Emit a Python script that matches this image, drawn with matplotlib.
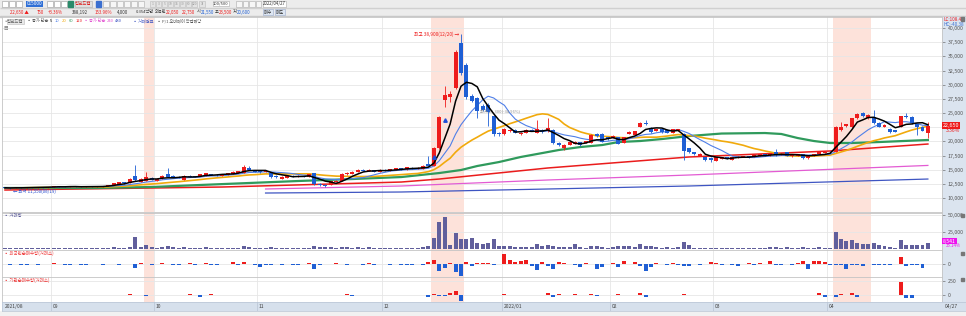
import matplotlib
matplotlib.use("Agg")
from matplotlib import pyplot as plt
from matplotlib.patches import Rectangle
import numpy as np
import pandas as pd

plt.rcParams['font.family'] = ['Noto Sans CJK KR', 'DejaVu Sans']

# daily candles 2021/08 ~ 2022/04/27, one entry per trading day
opens = [11900, 11800, 11750, 11850, 11800, 11900, 11850, 11950, 11900, 11950,
         12100, 12000, 11950, 12050, 12000, 11950, 12050, 12000, 12050, 12100,
         12350, 12500, 12800, 12650, 13900, 12850, 13000, 13550, 13000, 13500,
         14250, 13900, 13700, 13200, 13900, 13850, 13850, 13900, 14200, 14100,
         13900, 14100, 14300, 14500, 14400, 15300, 14950, 14750, 14600, 14400,
         13900, 13350, 13550, 13900, 13750, 13900, 13700, 14400, 12500, 12300,
         12300, 12800, 13000, 14200, 14250, 14600, 14950, 14800, 14950, 14650,
         14950, 14850, 15000, 15250, 15050, 15350, 15150, 15150, 16050, 15700,
         18850, 27300, 27800, 29400, 37350, 33450, 28000, 27650, 26250, 26400,
         24450, 21500, 21300, 21800, 22000, 21300, 21500, 22000, 21450, 22000,
         21800, 22000, 19700, 18850, 19350, 19550, 19900, 19700, 19700, 21300,
         21300, 20750, 20600, 20750, 19700, 21300, 21100, 22500, 23250, 22350,
         21900, 22150, 22000, 21450, 21850, 21300, 18800, 18100, 17500, 17200,
         17050, 16550, 16900, 17200, 16700, 17150, 17200, 17400, 17200, 17400,
         17750, 17550, 18050, 17600, 18050, 17350, 17400, 17750, 17050, 17400,
         17750, 17950, 18150, 18100, 22000, 22700, 22500, 24100, 24950, 24100,
         24300, 23250, 22550, 22200, 21950, 22550, 24450, 24300, 23050, 22550,
         21550]
closes = [11800, 11750, 11850, 11800, 11900, 11850, 11950, 11900, 11950, 12100,
          12000, 11950, 12050, 12000, 11950, 12050, 12000, 12050, 12100, 12300,
          12650, 12800, 12650, 13350, 13200, 13350, 13700, 13200, 13350, 13900,
          13700, 13700, 13550, 13900, 13700, 13750, 14200, 14400, 14050, 14000,
          14200, 14400, 14600, 14750, 15450, 14950, 14600, 14600, 14750, 13700,
          13700, 13700, 13900, 13800, 13900, 13750, 14200, 12500, 12300, 12150,
          12950, 13000, 14250, 14400, 14600, 14950, 14800, 14950, 14600, 14950,
          14850, 15100, 15250, 15100, 15400, 15200, 15300, 15650, 15700, 18850,
          24300, 28150, 28350, 35800, 32050, 27800, 27100, 25350, 25550, 25200,
          21300, 21300, 22200, 21950, 21500, 21500, 22000, 21850, 22150, 21650,
          22350, 19700, 19350, 19350, 19900, 19900, 19350, 20050, 21100, 20950,
          19900, 20400, 20950, 19550, 20750, 21650, 21800, 23250, 23050, 21650,
          22150, 21650, 21500, 22150, 22150, 18300, 18100, 17750, 17800, 16700,
          16700, 17200, 17200, 16900, 17200, 17300, 17400, 17200, 17550, 17700,
          17550, 17900, 17550, 17800, 17500, 17600, 17750, 17050, 17400, 17750,
          18100, 18150, 18100, 22500, 22550, 23050, 24100, 24800, 24450, 24650,
          23250, 22550, 22900, 21650, 21700, 24450, 24300, 23250, 22550, 21900,
          22650]
highs = [11950, 11850, 11900, 11900, 11950, 11950, 12000, 12000, 12000, 12150,
         12150, 12050, 12100, 12100, 12050, 12100, 12100, 12100, 12200, 12350,
         12700, 12900, 12850, 13550, 15800, 13450, 14600, 13650, 13450, 14000,
         15300, 14000, 13800, 14000, 14000, 13950, 14300, 14500, 14300, 14200,
         14300, 14500, 14700, 14850, 15800, 15650, 15000, 14800, 14850, 14450,
         14000, 13800, 14000, 14000, 14000, 13950, 14300, 14500, 12600, 12400,
         13050, 13100, 14350, 14550, 14700, 15050, 15050, 15050, 15000, 15050,
         15050, 15200, 15350, 15300, 15500, 15450, 15400, 15750, 17400, 19000,
         24500, 29750, 28900, 36200, 38900, 33900, 28300, 27900, 26600, 26700,
         24700, 21700, 22400, 22100, 22100, 21600, 22100, 22100, 23800, 22100,
         24050, 22200, 19800, 19450, 20000, 20000, 19950, 20150, 21250, 21400,
         21400, 20850, 21050, 20850, 20850, 21750, 21900, 23400, 23800, 22450,
         22250, 22250, 22100, 22250, 22250, 21400, 18900, 18200, 17900, 17300,
         17150, 17300, 17300, 17250, 17300, 17400, 17500, 17450, 17650, 17800,
         17850, 18000, 18650, 17900, 18100, 17700, 17850, 17800, 17500, 17850,
         18200, 18250, 18250, 22700, 23400, 23150, 24200, 24950, 25100, 24750,
         25500, 23350, 23000, 22300, 22050, 24550, 25000, 24400, 23150, 22650,
         23500]
lows = [11750, 11650, 11700, 11750, 11750, 11800, 11800, 11850, 11850, 11900,
        11950, 11900, 11900, 11950, 11900, 11900, 11950, 11950, 12000, 12050,
        12300, 12450, 12550, 12600, 13050, 12800, 12950, 13100, 12950, 13400,
        13650, 13650, 13450, 13150, 13650, 13650, 13800, 13850, 14000, 13900,
        13850, 14050, 14250, 14450, 14350, 14900, 14550, 14500, 14550, 13600,
        13600, 13300, 13500, 13700, 13700, 13650, 13650, 12300, 12100, 11950,
        12250, 12750, 12950, 14100, 14200, 14550, 14700, 14750, 14550, 14600,
        14750, 14800, 14950, 15000, 15000, 15100, 15100, 15100, 15650, 15600,
        18700, 26050, 26950, 29200, 31800, 27500, 26900, 24100, 25300, 22750,
        21000, 20900, 21200, 21700, 21400, 21200, 21450, 21750, 21400, 21550,
        21700, 19500, 19200, 18500, 19300, 19500, 19250, 19650, 19650, 20850,
        19800, 20300, 20550, 19450, 19650, 21250, 21050, 22450, 22950, 21550,
        21850, 21550, 21400, 21400, 21800, 16700, 18000, 17650, 17450, 16600,
        16400, 16500, 16850, 16800, 16650, 17100, 17150, 17100, 17150, 17350,
        17450, 17500, 17450, 17550, 17400, 17300, 17350, 16950, 16800, 17350,
        17700, 17900, 18000, 18050, 21900, 22500, 22400, 24000, 24300, 24000,
        23150, 22450, 22450, 21550, 21600, 22450, 24200, 23150, 21100, 21800,
        20600]
volume = [1500, 1200, 1800, 1000, 1500, 1200, 1000, 1800, 1500, 2000,
          1500, 1200, 1000, 1500, 1200, 1000, 1500, 1800, 1800, 2000,
          2500, 2000, 2200, 3000, 17600, 3000, 5500, 3000, 2000, 2500,
          4500, 2500, 2000, 2500, 2000, 1800, 2000, 2500, 1800, 1500,
          2000, 2000, 2200, 2000, 4500, 3000, 2000, 1800, 1500, 2500,
          2000, 1800, 1800, 1500, 1500, 1500, 2000, 5000, 3000, 2500,
          2500, 2000, 3500, 2500, 2000, 2500, 2000, 2500, 2000, 1800,
          2000, 1800, 2000, 2000, 1800, 1500, 2000, 2500, 5000, 16000,
          39000, 47000, 6000, 23000, 15000, 15000, 16000, 8500, 7500, 9000,
          15000, 5000, 5000, 4000, 3000, 3000, 3000, 3000, 7500, 4000,
          6500, 5000, 3000, 3000, 3000, 7500, 2500, 2000, 5000, 4000,
          3000, 2000, 3000, 5000, 4000, 5000, 3000, 7500, 4000, 4000,
          2500, 2000, 2500, 2000, 2500, 11000, 5500, 2000, 2000, 1500,
          1500, 2000, 1800, 1500, 1800, 1500, 1500, 1500, 1800, 1500,
          2000, 2500, 3500, 2000, 2500, 2000, 2000, 2500, 2000, 2000,
          2500, 2000, 2000, 25000, 15000, 11500, 13000, 9000, 8000, 8000,
          9000, 5900, 4400, 3000, 2000, 12700, 5400, 5400, 5400, 5400,
          9300]
foreign_net = [0.5, -0.5, 0.5, -0.5, -0.5, 0.5, -0.5, 0.5, 0.5, 1,
               0.5, -0.5, -0.5, 0.5, -0.5, -0.5, 0.5, 0.5, -0.5, 0.5,
               0.5, -0.5, 0.5, 0.5, -3.5, 1.5, 0.5, -0.5, 0.5, 1.5,
               0.5, -1, -0.5, 0.5, 1.5, -0.5, 0.5, 1.5, -1, -0.5,
               0.5, 0.5, 2, -0.5, 2, 0.5, -0.5, -3, -0.5, -0.5,
               0.5, -0.5, 0.5, -0.5, -0.5, 0.5, 1, -5, -0.5, 0.5,
               0.5, 1.5, 0.5, -0.5, 0.5, 0.5, -1, 1, -0.5, 0.5,
               0.5, -0.5, 0.5, -0.5, -1, -0.5, 0.5, -0.5, 2.3, 4,
               -6.7, -4.3, 1, -7.7, -12, 2.3, -2, 1, 1, 1,
               -1, 0.5, 10, 4, 2.3, 3, 4, -2, -6, 2.3,
               -2, -5.3, 2.3, 1, 0.5, -1, -3, 1, 0.5, -5,
               -3, 0.5, 1, -3, 3, 0.5, 2.3, -2, -7, -3,
               1, 0.5, -0.5, 1.5, -1, -2, -2, 0.5, -0.5, 0.5,
               2, 1.5, -1, 0.5, -0.5, -2, 0.5, 1, -1, 1.5,
               0.5, 3.3, -1, -1, 0.5, -0.5, 1.5, 3, -5, 3,
               3, 2.3, -0.5, -1, -0.5, -5, -0.5, -1, -2, 0.5,
               -1, -0.5, -0.5, -0.5, 0.5, 7.3, -2, -0.5, -1, -4.3,
               0]
# institution net buying only on the days it is not ~0
inst_days = [23, 26, 34, 36, 38, 63, 64, 78, 79, 80, 81, 82, 83, 84, 85, 92, 100, 101,
             102, 105, 108, 109, 113, 117, 118, 125, 150, 151, 153, 154, 156, 157, 165, 166, 167]
inst_net = [20, -20, 20, -35, 20, 20, -20, -35, 15, -15, -15, 35, 75, -120, 5, 20, 35, -35,
            25, 15, 20, -20, 15, 35, -35, 25, 30, -35, -40, 15, 30, -30, 240, -60, -55]

# long moving averages, read at a few days
ma60_days = [0, 17, 27, 36, 45, 54, 64, 73, 80, 84, 87, 91, 95, 99, 102, 106,
             110, 113, 117, 121, 126, 132, 140, 143, 146, 149, 152, 156, 161, 170]
ma60_vals = [11770, 11770, 11940, 12300, 12650, 13000, 13350, 13700, 14410, 14940,
             15650, 16350, 17240, 17940, 18470, 19000, 19350, 19880, 20060, 20410,
             20940, 21380, 21470, 21300, 20590, 20060, 19710, 19710, 19880, 20240]
ma120_days = [0, 40, 60, 73, 80, 100, 126, 152, 170]
ma120_vals = [11410, 11940, 12470, 12820, 13350, 15300, 17240, 18300, 19530]
ma240_days = [48, 73, 100, 126, 170]
ma240_vals = [11590, 12120, 13180, 14060, 15750]
ma480_days = [48, 73, 100, 126, 170]
ma480_vals = [10880, 11060, 11590, 12120, 13350]

month_edges = [8.5, 27.5, 46.5, 69.5, 91.5, 111.5, 130.5, 151.5]
month_labels = ["09", "10", "11", "12", "2022/01", "02", "03", "04"]
highlights = [(25.6, 27.5), (78.5, 84.5), (152.5, 159.5)]
price_ticks = [10000, 12500, 15000, 17500, 20000, 22500, 25000, 27500,
               30000, 32500, 35000, 37500, 40000]
period_buttons = ["1", "3", "5", "10", "15", "30", "60", "120"]

RED = "#ee1c1c"
BLUE = "#1f5fd4"
GRID = "#e6e6e6"
STRIP = "#dbe4ef"
W, H = 966, 316

fig = plt.figure(figsize=(W / 100, H / 100), dpi=100)
fig.patch.set_facecolor("white")


def ftext(x, y, s, **kw):
    kw.setdefault("fontsize", 3.2)
    kw.setdefault("va", "center")
    return fig.text(x / W, 1 - y / H, s, **kw)


def frect(x0, y0, x1, y1, **kw):
    kw.setdefault("zorder", -1)
    r = Rectangle((x0 / W, 1 - y1 / H), (x1 - x0) / W, (y1 - y0) / H,
                  transform=fig.transFigure, **kw)
    fig.patches.append(r)
    return r


def add_panel(y0, y1, ylim):
    ax = fig.add_axes([2 / W, 1 - y1 / H, 940 / W, (y1 - y0) / H])
    ax.set_xlim(-0.55, 172.6)
    ax.set_ylim(*ylim)
    ax.set_xticks([])
    ax.yaxis.tick_right()
    ax.tick_params(axis="y", length=2, width=0.4, pad=2, labelsize=3.8, colors="#555555")
    for s in ax.spines.values():
        s.set_color("#c4c4c4")
        s.set_linewidth(0.6)
    for e in month_edges:
        ax.axvline(e, color=GRID, lw=0.6, zorder=0)
    for a, b in highlights:
        ax.axvspan(a, b, color="#fde2da", lw=0, zorder=0)
    return ax


days = np.arange(len(closes))

# frame pieces: toolbar, right strip, bottom scroll bar
frect(0, 0, 966, 17, color="#ececec")
frect(0, 7.6, 966, 8.2, color="#d0d0d0")
frect(0, 16.4, 966, 17, color="#c8c8c8")
frect(942, 17, 966, 311, color=STRIP)
frect(0, 311, 966, 316, color="#f1f1f1")

# ---- price panel
ax = add_panel(17, 212, (7530, 41950))
ax.set_yticks(price_ticks)
# the 22,500 label sits under the last-price tag
ax.set_yticklabels(["" if v == 22500 else f"{v:,}" for v in price_ticks])
for v in price_ticks:
    ax.axhline(v, color=GRID, lw=0.6, zorder=0)

s = pd.Series(closes, dtype=float)
ax.plot(ma480_days, ma480_vals, color="#3e55c2", lw=0.9, zorder=2)
ax.plot(ma240_days, ma240_vals, color="#e35bd3", lw=0.9, zorder=2)
ax.plot(ma120_days, ma120_vals, color="#ea1c1c", lw=1.1, zorder=2)
ax.plot(ma60_days, ma60_vals, color="#2f9a5c", lw=1.6, zorder=2)
ax.plot(days, s.rolling(20, min_periods=1).mean(), color="#f1aa0c", lw=1.2, zorder=2)
ax.plot(days, s.rolling(10, min_periods=1).mean(), color="#4f7fe8", lw=0.8, zorder=2)

o = np.array(opens)
c = np.array(closes)
colors = np.where(c >= o, RED, BLUE)
ax.vlines(days, lows, highs, colors=colors, lw=0.6, zorder=3)
ax.bar(days, np.maximum(np.abs(c - o), 60), bottom=np.minimum(o, c), width=0.72,
       color=colors, lw=0, zorder=3)
ax.plot(days, s.rolling(5, min_periods=1).mean(), color="black", lw=1.1, zorder=4)

# buy signal arrows and high/low marks
ax.plot([79, 81], [17300, 23700], ls="none", marker="^", ms=2.5, color="#1f4fd8", zorder=5)
ax.text(83.6, 38900, "최고 38,900(12/20) →", color=RED, fontsize=3.4, ha="right", va="center")
ax.text(87.5, 25300, "최저 25,300(-34.96%)", color="#888888", fontsize=3.0, ha="left", va="center")
ax.text(1.5, 11250, "← 최저 11,550(08/19)", color="#2a4fd0", fontsize=3.2, ha="left", va="center")

# last price tag on the right strip
ftext(943, 125.5, "22,650", color="white", fontsize=3.9,
      bbox=dict(boxstyle="square,pad=0.15", fc=RED, ec="none"))
ftext(946, 131, "3.36%", color=RED, fontsize=3.6)
ftext(944, 19.5, "LC:108.48", color=RED, fontsize=3.3)
ftext(944, 24, "HC:-40.38", color="#3a6fd0", fontsize=3.3)

# legend row
ftext(3, 21.5, "▫", color="#777777")
ftext(7, 21.5, "링크드랩", color="#666666",
      bbox=dict(boxstyle="square,pad=0.1", fc="#e8e8e8", ec="#bbbbbb", lw=0.4))
ftext(27, 21.5, "▪ 종가 단순", color="#555555", fontsize=3.0)
for lab, col, xp in [("5", "black", 50), ("10", "#4f7fe8", 55), ("20", "#f1aa0c", 62),
                     ("60", "#2f9a5c", 69), ("120", "#ea1c1c", 76)]:
    ftext(xp, 21.5, lab, color=col, fontsize=3.0)
ftext(84, 21.5, "▪ 종가 단순", color="#e35bd3", fontsize=3.0)
ftext(107, 21.5, "240", color="#e35bd3", fontsize=3.0)
ftext(115, 21.5, "480", color="#3e55c2", fontsize=3.0)
ftext(133, 21.5, "▪ 거래원표", color="#3e55c2", fontsize=3.0)
ftext(157, 21.5, "▪ P/1 오버레이 작업해당", color="#555555", fontsize=3.0)
ftext(4, 29, "▤", color="#777777", fontsize=3.2)

# ---- volume panel
axv = add_panel(213, 250, (-1470, 52900))
axv.set_yticks([25000, 50000])
axv.set_yticklabels(["25,000", "50,000"])
for v in [25000, 50000]:
    axv.axhline(v, color=GRID, lw=0.6, zorder=0)
axv.bar(days, volume, width=0.72, color="#615f9c", lw=0, zorder=3)
ftext(4, 215.5, "▪ 거래량", color="#5a5a9a", fontsize=3.2)
ftext(943, 241, "8,541", color="white", fontsize=3.7,
      bbox=dict(boxstyle="square,pad=0.15", fc="#ee11ee", ec="none"))
ftext(946, 245.5, "33.14%", color="#ee11ee", fontsize=3.2)

# ---- foreign net buying
axf = add_panel(250, 277, (-13, 14))
axf.set_yticks([0])
axf.set_yticklabels(["0"])
axf.axhline(0, color=GRID, lw=0.6, zorder=0)
fn = np.array(foreign_net)
axf.bar(days, fn, width=0.72, color=np.where(fn >= 0, RED, BLUE), lw=0, zorder=3)
ftext(4, 253.5, "▪ 외국인순매수량(거래소)", color="#ee3b3b", fontsize=3.2)

# ---- institution net buying
axi = add_panel(277, 302, (-130, 333))
axi.set_yticks([0, 250])
axi.set_yticklabels(["0", "250"])
for v in [0, 250]:
    axi.axhline(v, color=GRID, lw=0.6, zorder=0)
inn = np.array(inst_net)
axi.bar(inst_days, inn, width=0.72, color=np.where(inn >= 0, RED, BLUE), lw=0, zorder=3)
ftext(4, 280, "▪ 기관순매수량(거래소)", color="#ee3b3b", fontsize=3.2)

# small panel boxes on the right edge
for yb in [19, 215, 253, 279]:
    frect(961, yb - 1.5, 964, yb + 1.5, color="#777777", zorder=5)

# ---- date strip
axd = fig.add_axes([2 / W, 1 - 311 / H, 964 / W, 9 / H])
axd.set_xlim(-0.55, 172.6 + 24 / 5.43)
axd.set_ylim(0, 1)
axd.set_facecolor("#d6e0ec")
axd.set_xticks([])
axd.set_yticks([])
for sp in axd.spines.values():
    sp.set_color("#b8c4d4")
    sp.set_linewidth(0.5)
axd.text(0, 0.5, "2021/08", fontsize=3.6, color="#444444", va="center")
for e, lab in zip(month_edges, month_labels):
    axd.axvline(e, color="#b8c4d4", lw=0.5)
    axd.text(e + 0.3, 0.5, lab, fontsize=3.6, color="#444444", va="center")
ftext(945, 306.5, "04/27", color="#444444", fontsize=3.6)

# ---- toolbar, row 1: icons, code box, period buttons
for xb in [2, 9, 16]:
    frect(xb, 1, xb + 6, 6.6, fc="white", ec="#999999", lw=0.4, zorder=1)
ftext(27, 3.8, "015000", color="white", fontsize=3.4,
      bbox=dict(boxstyle="square,pad=0.15", fc="#2f6fd6", ec="none"))
for xb in [47, 54, 61]:
    frect(xb, 1, xb + 6, 6.6, fc="white", ec="#999999", lw=0.4, zorder=1)
frect(68, 1, 73, 6.6, color="#2a8a6a", zorder=1)
ftext(75, 3.8, "링크드랩", color="#d22", fontsize=3.2,
      bbox=dict(boxstyle="square,pad=0.1", fc="#e0e0e0", ec="#aaaaaa", lw=0.4))
frect(96, 1, 101, 6.6, color="#3a6fd0", zorder=1)
for xb in [103, 110, 117, 124, 131, 138]:
    frect(xb, 1, xb + 6, 6.6, fc="#f6f6f6", ec="#aaaaaa", lw=0.4, zorder=1)
for k, lab in enumerate(period_buttons):
    xb = 150 + 6 * k
    frect(xb, 1, xb + 5.4, 6.6, fc="#e4e4e4", ec="#bbbbbb", lw=0.4, zorder=1)
    ftext(xb + 2.7, 3.8, lab, color="#999999", fontsize=2.4, ha="center")
frect(199, 1, 205, 6.6, fc="#e4e4e4", ec="#bbbbbb", lw=0.4, zorder=1)
ftext(202, 3.8, "3", color="#777777", fontsize=2.8, ha="center")
ftext(213, 3.8, "100/500", color="#333333", fontsize=3.0,
      bbox=dict(boxstyle="square,pad=0.1", fc="white", ec="#aaaaaa", lw=0.4))
for xb in [236, 242.5, 249, 255.5]:
    frect(xb, 1, xb + 5.5, 6.6, fc="#f6f6f6", ec="#aaaaaa", lw=0.4, zorder=1)
ftext(263, 3.8, "2022/04/27", color="#333333", fontsize=3.2,
      bbox=dict(boxstyle="square,pad=0.1", fc="white", ec="#aaaaaa", lw=0.4))

# ---- toolbar, row 2: quote line
ftext(10, 12.3, "22,650 ▲", color=RED)
ftext(37, 12.3, "750", color=RED)
ftext(48, 12.3, "+3.36%", color=RED)
ftext(72, 12.3, "388,192", color="#333333")
ftext(95, 12.3, "153.96%", color=RED)
ftext(117, 12.3, "4,000", color="#333333")
ftext(136, 12.3, "0.354백만", color="#333333", fontsize=3.0)
ftext(155, 12.3, "외국인", color="#333333", fontsize=3.0)
ftext(166, 12.3, "22,050", color=RED)
ftext(182, 12.3, "22,750", color=RED)
ftext(197, 12.3, "시", color="#333333", fontsize=3.0)
ftext(201, 12.3, "21,550", color=BLUE)
ftext(215, 12.3, "고", color="#333333", fontsize=3.0)
ftext(219, 12.3, "23,500", color=RED)
ftext(233, 12.3, "저", color="#333333", fontsize=3.0)
ftext(237, 12.3, "20,600", color=BLUE)
ftext(264, 12.3, "매수", color="#333333",
      bbox=dict(boxstyle="square,pad=0.15", fc="#dde6f2", ec="#99aacc", lw=0.4))
ftext(276, 12.3, "매도", color="#333333",
      bbox=dict(boxstyle="square,pad=0.15", fc="#dde6f2", ec="#99aacc", lw=0.4))

fig.savefig("out.png", dpi=100, facecolor="white")
